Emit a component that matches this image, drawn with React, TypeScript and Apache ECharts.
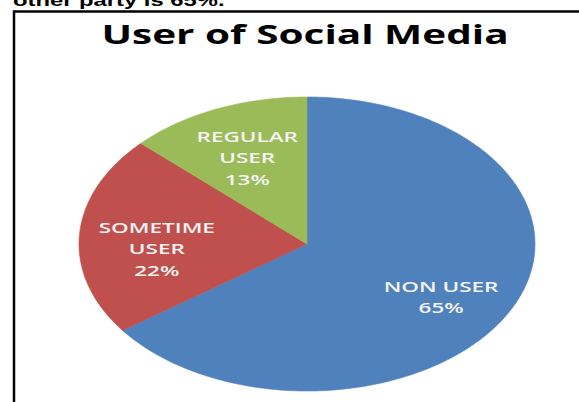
import React, { useEffect, useRef } from "react";
import * as echarts from "echarts";

// ---- data ----
const categories = ["NON USER", "SOMETIME USER", "REGULAR USER"];
const labelLines = [["NON USER"], ["SOMETIME", "USER"], ["REGULAR", "USER"]];
const values = [65, 22, 13];
const colors = ["#4F81BD", "#C0504D", "#9BBB59"];
const chartTitle = "User of Social Media";
const caption = "other party is 65%.";

// ---- layout (not data) ----
const CX = 307;
const CY = 244;
const RX = 228;
const RY = 147;
const STRETCH = 1.5;
const LABEL_RADIUS = 0.66;
const LABEL_NUDGE_Y = [9, 11, 3];

export default function App() {
  const ref = useRef<HTMLDivElement>(null);

  useEffect(() => {
    if (!ref.current) return;
    const chart = echarts.init(ref.current, undefined, { renderer: "svg" });
    const total = values.reduce((a, b) => a + b, 0);

    const renderItem = (params: any, api: any) => {
      const i = params.dataIndex;
      const v = api.value(0);
      let before = 0;
      for (let k = 0; k < i; k++) before += values[k];
      const start = 90 - (before / total) * 360;
      const end = start - (v / total) * 360;
      const steps = Math.max(8, Math.ceil(Math.abs(end - start)));
      const pts: number[][] = [[CX, CY]];
      for (let s = 0; s <= steps; s++) {
        const a = ((start + ((end - start) * s) / steps) * Math.PI) / 180;
        pts.push([CX + RX * Math.cos(a), CY - RY * Math.sin(a)]);
      }
      const mid = (((start + end) / 2) * Math.PI) / 180;
      const lx = CX + LABEL_RADIUS * RX * Math.cos(mid);
      const ly = CY - LABEL_RADIUS * RY * Math.sin(mid) + LABEL_NUDGE_Y[i];
      const pct = Math.round((v / total) * 100) + "%";
      return {
        type: "group",
        children: [
          {
            type: "polygon",
            shape: { points: pts },
            style: { fill: colors[i], stroke: colors[i], lineWidth: 0.6 },
          },
          {
            type: "text",
            x: lx,
            y: ly,
            scaleX: STRETCH,
            z2: 10,
            style: {
              text: [...labelLines[i], pct].join("\n"),
              fill: "#F4F4F4",
              fontFamily: "Open Sans",
              fontWeight: 600,
              fontSize: 15,
              lineHeight: 21.5,
              align: "center",
              verticalAlign: "middle",
            },
          },
        ],
      };
    };

    chart.setOption({
      animation: false,
      backgroundColor: "#ffffff",
      graphic: [
        {
          type: "rect",
          shape: { x: 14, y: 11.5, width: 700, height: 600 },
          style: { fill: "none", stroke: "#000000", lineWidth: 2.5 },
        },
        {
          type: "text",
          x: 13,
          y: 0,
          scaleX: 1.4,
          style: {
            text: caption,
            fill: "#000000",
            fontFamily: "Liberation Sans",
            fontWeight: "bold",
            fontSize: 17,
            align: "left",
            verticalAlign: "middle",
          },
        },
        {
          type: "text",
          x: 305,
          y: 33,
          scaleX: STRETCH,
          style: {
            text: chartTitle,
            fill: "#000000",
            fontFamily: "Open Sans",
            fontWeight: "bold",
            fontSize: 27,
            align: "center",
            verticalAlign: "middle",
          },
        },
      ],
      series: [
        {
          type: "custom",
          coordinateSystem: "none",
          renderItem,
          data: values.map((v, i) => ({ name: categories[i], value: [v] })),
        },
      ],
    });

    return () => chart.dispose();
  }, []);

  return (
    <div
      ref={ref}
      style={{ position: "fixed", left: 0, top: 0, width: 579, height: 402, background: "#fff" }}
    />
  );
}
